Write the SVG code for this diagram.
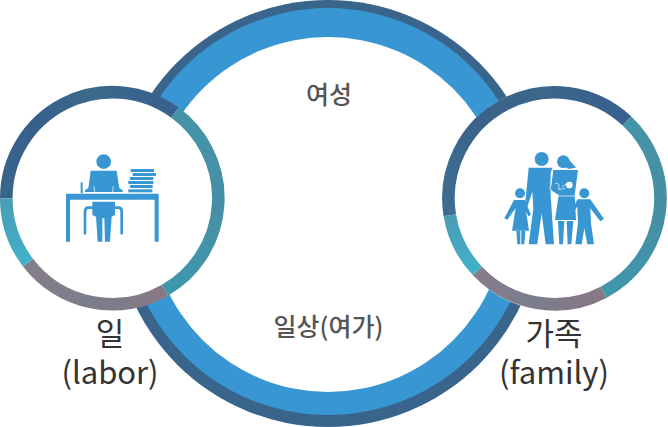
<svg xmlns="http://www.w3.org/2000/svg" width="668" height="427" viewBox="0 0 668 427">
<style>
.seg{fill:none;stroke-width:12.6}
.ic{fill:#3897d3}
.ln{fill:none;stroke:#3897d3;stroke-width:8;stroke-linecap:round}
.gap{fill:none;stroke:#fff;stroke-width:2}
text{font-family:"Noto Sans CJK KR","Noto Sans",sans-serif;text-anchor:middle}
.mid{font-size:25px;font-weight:500;fill:#555}
.lab{font-size:31px;fill:#333}
</style>
<defs>
<linearGradient id="dL" gradientUnits="userSpaceOnUse" x1="12" y1="198" x2="175" y2="112"><stop offset="0" stop-color="#39648a"/><stop offset=".3" stop-color="#375f8c"/><stop offset=".65" stop-color="#3c6a8a"/><stop offset="1" stop-color="#38608e"/></linearGradient>
<linearGradient id="tL" gradientUnits="userSpaceOnUse" x1="175" y1="112" x2="165" y2="290"><stop offset="0" stop-color="#4494a8"/><stop offset=".5" stop-color="#468fa6"/><stop offset="1" stop-color="#3f97ab"/></linearGradient>
<linearGradient id="gL" gradientUnits="userSpaceOnUse" x1="165" y1="290" x2="28" y2="263"><stop offset="0" stop-color="#887885"/><stop offset=".5" stop-color="#7b7d8c"/><stop offset="1" stop-color="#857d8a"/></linearGradient>
<linearGradient id="aL" gradientUnits="userSpaceOnUse" x1="28" y1="263" x2="12" y2="198"><stop offset="0" stop-color="#41b1ca"/><stop offset="1" stop-color="#4a9db5"/></linearGradient>
<linearGradient id="dR" gradientUnits="userSpaceOnUse" x1="448" y1="215" x2="627" y2="120"><stop offset="0" stop-color="#3f6d92"/><stop offset=".35" stop-color="#39628a"/><stop offset=".7" stop-color="#3c678a"/><stop offset="1" stop-color="#38608e"/></linearGradient>
<linearGradient id="tR" gradientUnits="userSpaceOnUse" x1="627" y1="120" x2="603" y2="293"><stop offset="0" stop-color="#4494a8"/><stop offset=".5" stop-color="#478ea4"/><stop offset="1" stop-color="#3f97ab"/></linearGradient>
<linearGradient id="gR" gradientUnits="userSpaceOnUse" x1="603" y1="293" x2="478" y2="270"><stop offset="0" stop-color="#887885"/><stop offset=".5" stop-color="#7b7d8c"/><stop offset="1" stop-color="#857d8a"/></linearGradient>
<linearGradient id="aR" gradientUnits="userSpaceOnUse" x1="478" y1="270" x2="448" y2="215"><stop offset="0" stop-color="#41b1ca"/><stop offset="1" stop-color="#4a9db5"/></linearGradient>
</defs>
<g id="ring-large">
<circle cx="328" cy="213.5" r="213.5" fill="#39648c"/>
<circle cx="328" cy="211.5" r="203.5" fill="#3897d3"/>
<circle cx="328" cy="214.5" r="177.5" fill="#fff"/>
<text class="mid" x="329" y="104">여성</text>
<text class="mid" x="328.5" y="336">일상(여가)</text>
</g>
<g id="node-labor">
<circle cx="112.3" cy="198.3" r="112" fill="#fff"/>
<path class="seg" stroke="url(#dL)" d="M6.3 198.3A106 106 0 0 1 175 112.7"/>
<path class="seg" stroke="url(#tL)" d="M175 112.7A106 106 0 0 1 165 290.2"/>
<path class="seg" stroke="url(#gL)" d="M165 290.2A106 106 0 0 1 28 262.6"/>
<path class="seg" stroke="url(#aL)" d="M28 262.6A106 106 0 0 1 6.3 198.3"/>
<g transform="translate(60 145) scale(.3333)">
<circle class="ic" cx="131" cy="50" r="22"/>
<path class="ic" d="M92 77H170L178 130L188 135V141H75V135L85 130Z"/>
<path class="gap" d="M102 124L104 141M160 124L158 141"/>
<rect class="ic" x="62" y="112" width="6" height="33"/>
<rect class="ic" x="212" y="72" width="70" height="9"/><rect class="ic" x="218" y="84" width="70" height="9"/><rect class="ic" x="210" y="96" width="70" height="9"/><rect class="ic" x="205" y="108" width="75" height="9"/><rect class="ic" x="210" y="120" width="68" height="9"/><rect class="ic" x="205" y="133" width="72" height="9"/>
<path class="ic" d="M18 146H296V290H284V164H30V290H18Z"/>
<path class="ln" d="M97 188H84Q75 188 75 200V265M165 188H176Q185 188 185 200V265"/>
<path class="ic" d="M97 170H165V210L155 215L150 290H135L133 220H127L127 290H113L108 215L97 210Z"/>
</g>
</g>
<g id="node-family">
<circle cx="554.5" cy="198.3" r="112.5" fill="#fff"/>
<path class="seg" stroke="url(#dR)" d="M449.8 215.3A106 106 0 0 1 627 121"/>
<path class="seg" stroke="url(#tR)" d="M627 121A106 106 0 0 1 603.5 292.3"/>
<path class="seg" stroke="url(#gR)" d="M603.5 292.3A106 106 0 0 1 477.5 271"/>
<path class="seg" stroke="url(#aR)" d="M477.5 271A106 106 0 0 1 449.8 215.3"/>
<g transform="translate(500 145) scale(.3333)">
<circle class="ic" cx="125" cy="42" r="21"/>
<path class="ic" d="M86 68H157L152 85V150L162 298H137L125 205L112 298H86L100 190L97 140L82 185L92 207L86 214L74 192Z"/>
<circle class="ic" cx="190" cy="50" r="19"/>
<path class="ic" d="M197 33Q214 52 228 68L205 72L188 60Z"/>
<path class="ic" d="M160 75H234L224 150L228 225H165L176 150L152 135Z"/>
<path class="gap" d="M158 72L150 132L172 153H224" stroke-width="3"/>
<path class="gap" d="M165 116Q182 112 176 134L196 130M186 126Q200 112 212 116" stroke-width="8"/>
<circle cx="208" cy="120" r="10" fill="#fff"/>
<path class="ic" d="M174 228H193L189 298H178ZM200 228H220L214 298H203Z"/>
<circle class="ic" cx="60" cy="145" r="15"/>
<path class="ic" d="M42 165H75L92 210L85 214L77 190L87 257H36L47 190L22 224L13 220Z"/>
<path class="ic" d="M49 257H61V298H52ZM64 257H76L73 298H64Z"/>
<circle class="ic" cx="253" cy="145" r="15"/>
<path class="ic" d="M233 163H271L312 222L301 229L271 190L273 235L282 298H262L253 250L245 298H226L234 235L232 185L222 200L217 190Z"/>
</g>
</g>
<g id="labels">
<text class="lab"><tspan x="110" y="345">일</tspan><tspan x="110" y="384">(labor)</tspan></text>
<text class="lab"><tspan x="554" y="345">가족</tspan><tspan x="554" y="384">(family)</tspan></text>
</g>
</svg>
